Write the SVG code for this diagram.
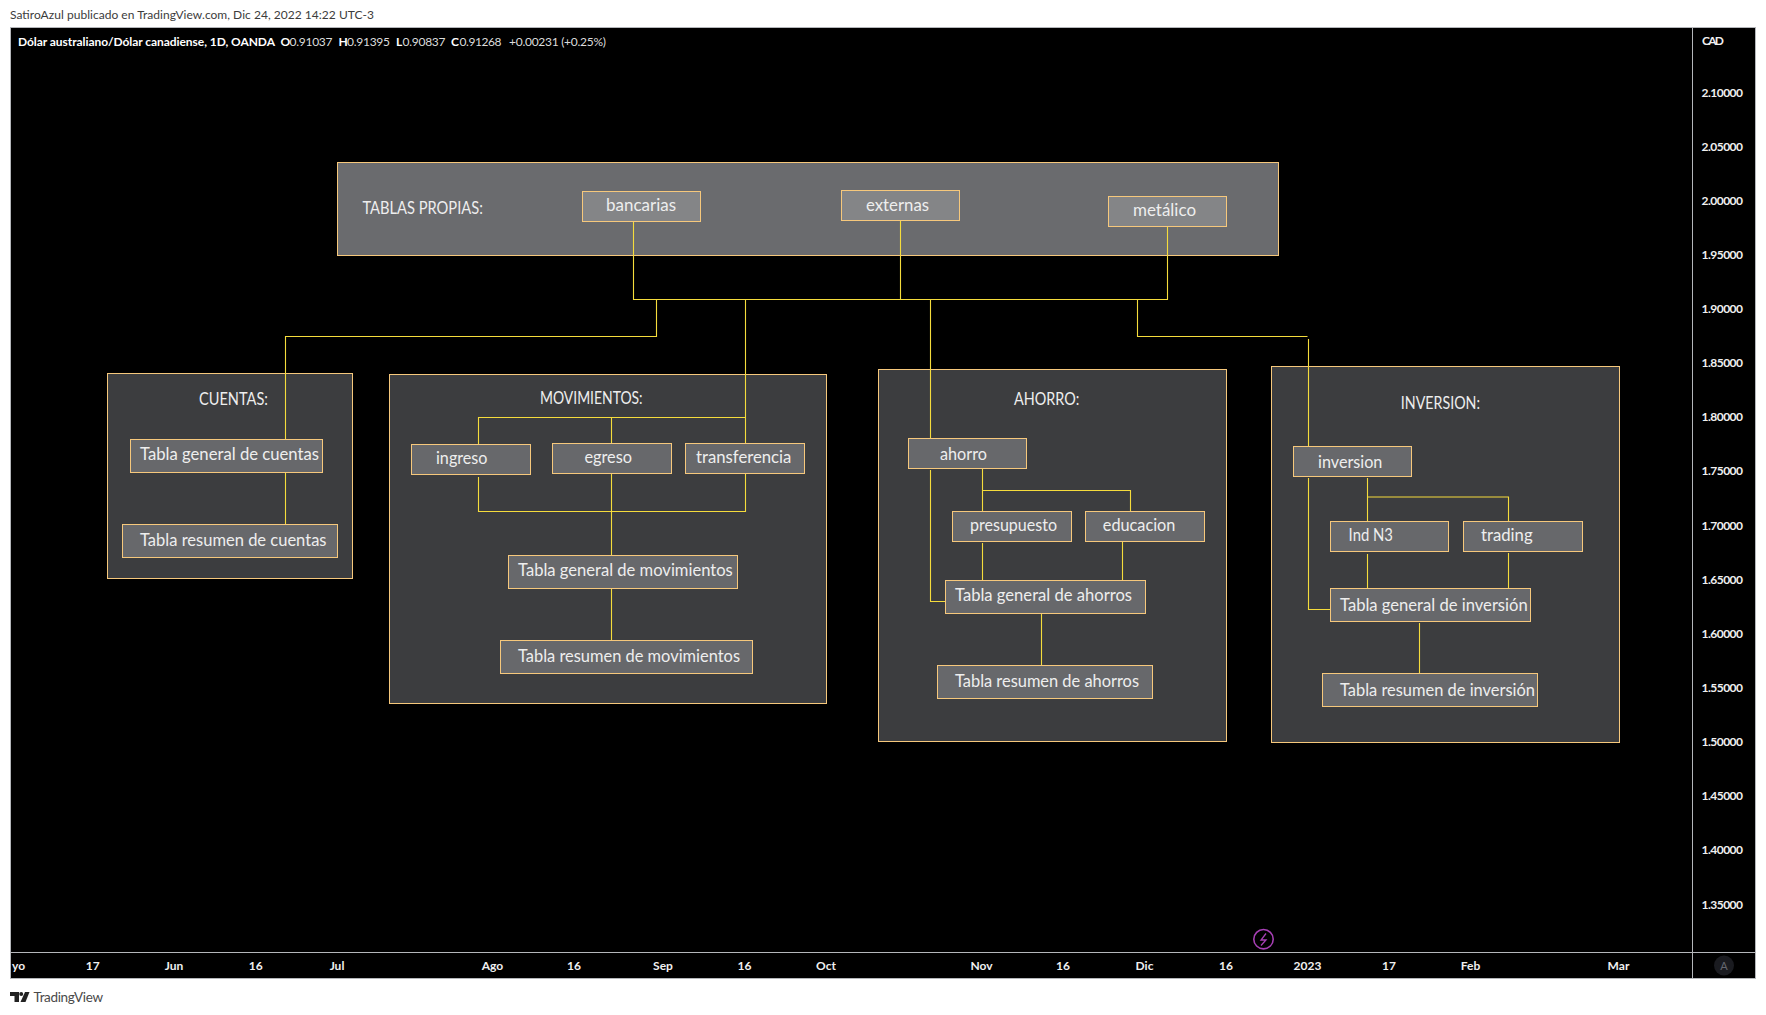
<svg xmlns="http://www.w3.org/2000/svg" width="1766" height="1015" viewBox="0 0 1766 1015">
<style>
text{font-family:"Lato","Open Sans","Liberation Sans",sans-serif}
.b{stroke:#f6c87c;stroke-width:1}
.top{fill:#6a6b6e}
.panel{fill:#3c3d3f}
.node{fill:#67686b}
.light{fill:#848587}
.t{font-size:17px;fill:#eeeeee}
.c{fill:none;stroke:#f5dc3c;stroke-width:1.1}
.ax{font-size:12px;fill:#f0f0f0;font-weight:700}
.p{font-size:12px;fill:#dcdcdc;text-anchor:start}
.h{font-size:12px;font-weight:700;fill:#fff}
.x{text-anchor:middle}
.grid{fill:none;stroke:#b4b6ba;stroke-width:1}
</style>
<rect width="1766" height="1015" fill="#fff"/>
<g id="frame">
<rect x="10" y="27" width="1746" height="952" fill="#000"/>
<rect class="grid" x="10.5" y="27.5" width="1745" height="951"/>
<path class="grid" d="M1692.5 27V979M10 952.5H1756"/>
</g>
<g id="header">
<text x="10" y="19" font-size="12" fill="#3c3c3c" textLength="364">SatiroAzul publicado en TradingView.com, Dic 24, 2022 14:22 UTC-3</text>
<text x="18" y="46" class="h" textLength="257">Dólar australiano/Dólar canadiense, 1D, OANDA</text>
<text x="280.5" y="46" class="h">O</text><text x="289.5" y="46" class="p" textLength="43">0.91037</text>
<text x="338.5" y="46" class="h">H</text><text x="347" y="46" class="p" textLength="43">0.91395</text>
<text x="396" y="46" class="h">L</text><text x="402.5" y="46" class="p" textLength="43">0.90837</text>
<text x="451" y="46" class="h">C</text><text x="459.5" y="46" class="p" textLength="42">0.91268</text>
<text x="509" y="46" class="p" textLength="97">+0.00231 (+0.25%)</text>
</g>
<g id="price-axis">
<text class="ax" x="1702" y="45" textLength="22">CAD</text>
<text class="ax" x="1701.5" y="96.5" textLength="41.5">2.10000</text>
<text class="ax" x="1701.5" y="150.6" textLength="41.5">2.05000</text>
<text class="ax" x="1701.5" y="204.8" textLength="41.5">2.00000</text>
<text class="ax" x="1701.5" y="258.9" textLength="41.5">1.95000</text>
<text class="ax" x="1701.5" y="313" textLength="41.5">1.90000</text>
<text class="ax" x="1701.5" y="367.2" textLength="41.5">1.85000</text>
<text class="ax" x="1701.5" y="421.3" textLength="41.5">1.80000</text>
<text class="ax" x="1701.5" y="475.4" textLength="41.5">1.75000</text>
<text class="ax" x="1701.5" y="529.5" textLength="41.5">1.70000</text>
<text class="ax" x="1701.5" y="583.7" textLength="41.5">1.65000</text>
<text class="ax" x="1701.5" y="637.8" textLength="41.5">1.60000</text>
<text class="ax" x="1701.5" y="691.9" textLength="41.5">1.55000</text>
<text class="ax" x="1701.5" y="746.1" textLength="41.5">1.50000</text>
<text class="ax" x="1701.5" y="800.2" textLength="41.5">1.45000</text>
<text class="ax" x="1701.5" y="854.3" textLength="41.5">1.40000</text>
<text class="ax" x="1701.5" y="908.5" textLength="41.5">1.35000</text>
</g>
<g id="time-axis">
<text class="ax" x="12" y="969.5">yo</text>
<text class="ax x" x="92.7" y="969.5">17</text>
<text class="ax x" x="174" y="969.5">Jun</text>
<text class="ax x" x="255.7" y="969.5">16</text>
<text class="ax x" x="337" y="969.5">Jul</text>
<text class="ax x" x="492.5" y="969.5">Ago</text>
<text class="ax x" x="574" y="969.5">16</text>
<text class="ax x" x="663" y="969.5">Sep</text>
<text class="ax x" x="744.5" y="969.5">16</text>
<text class="ax x" x="826" y="969.5">Oct</text>
<text class="ax x" x="981.5" y="969.5">Nov</text>
<text class="ax x" x="1063" y="969.5">16</text>
<text class="ax x" x="1144.5" y="969.5">Dic</text>
<text class="ax x" x="1226" y="969.5">16</text>
<text class="ax x" x="1307.5" y="969.5">2023</text>
<text class="ax x" x="1389" y="969.5">17</text>
<text class="ax x" x="1470.6" y="969.5">Feb</text>
<text class="ax x" x="1618.5" y="969.5">Mar</text>
</g>
<g id="icons">
<circle cx="1263.5" cy="939.2" r="9.7" fill="none" stroke="#a63fb4" stroke-width="1.6"/>
<path d="M1266 933.5l-5 6.5h5l-5 5.5" fill="none" stroke="#a63fb4" stroke-width="1.3"/>
<circle cx="1724" cy="965.5" r="10" fill="#1a1b20"/>
<text x="1724" y="969.5" font-size="11" fill="#666870" text-anchor="middle">A</text>
<path d="M10 992H19V1002H14.5V996H10Z" fill="#222"/>
<circle cx="21.2" cy="994" r="2" fill="#222"/>
<path d="M25 992H29.5L25.5 1002H20.5Z" fill="#222"/>
<text x="33.5" y="1001.5" font-size="13.5" fill="#4a4a4a" textLength="69.5">TradingView</text>
</g>
<g id="panel-tablas-propias"><rect class="top b" x="337.5" y="162.5" width="941" height="93"/><text class="t" x="362.4" y="214" textLength="120.5" lengthAdjust="spacingAndGlyphs">TABLAS PROPIAS:</text></g>
<g id="panel-cuentas"><rect class="panel b" x="107.5" y="373.5" width="245" height="205"/><text class="t" x="199" y="405" textLength="69" lengthAdjust="spacingAndGlyphs">CUENTAS:</text></g>
<g id="panel-movimientos"><rect class="panel b" x="389.5" y="374.5" width="437" height="329"/><text class="t" x="540" y="404" textLength="102.6" lengthAdjust="spacingAndGlyphs">MOVIMIENTOS:</text></g>
<g id="panel-ahorro"><rect class="panel b" x="878.5" y="369.5" width="348" height="372"/><text class="t" x="1014" y="405" textLength="65.4" lengthAdjust="spacingAndGlyphs">AHORRO:</text></g>
<g id="panel-inversion"><rect class="panel b" x="1271.5" y="366.5" width="348" height="376"/><text class="t" x="1400.8" y="409" textLength="79.2" lengthAdjust="spacingAndGlyphs">INVERSION:</text></g>
<g id="connectors">
<path class="c" d="M633.5 221V299.5H1167.5V226M900.5 220V299.5"/>
<path class="c" d="M656.5 299.5V336.5H285.5V439M285.5 472.7V526"/>
<path class="c" d="M745.5 299.5V444M745.5 417.5H478.5V445M611.5 417.5V444M478.5 477V511.5H745.5V474M611.5 474V556M611.5 588V641"/>
<path class="c" d="M930.5 299.5V439M930.5 470V601.5H946M982.5 468V512M982.5 490.5H1130.5V512M982.5 543V581M1122.5 541V581M1041.5 612V667"/>
<path class="c" d="M1137.5 299.5V336.5H1307.5M1308.5 339V447M1308.5 478V609.5H1331M1367.5 478V522M1367.5 497H1508.5V522M1367.5 554V589M1508.5 553V589M1419.5 623V674"/>
</g>
<g id="n-bancarias"><rect class="light b" x="582.5" y="191.5" width="118" height="30"/><text class="t" x="606" y="211" textLength="70" lengthAdjust="spacingAndGlyphs">bancarias</text></g>
<g id="n-externas"><rect class="light b" x="841.5" y="190.5" width="118" height="30"/><text class="t" x="866" y="211" textLength="63" lengthAdjust="spacingAndGlyphs">externas</text></g>
<g id="n-metalico"><rect class="light b" x="1108.5" y="196.5" width="118" height="30"/><text class="t" x="1133" y="216" textLength="63" lengthAdjust="spacingAndGlyphs">metálico</text></g>
<g id="n-general-cuentas"><rect class="node b" x="130.5" y="439.5" width="192" height="33"/><text class="t" x="140" y="460" textLength="179" lengthAdjust="spacingAndGlyphs">Tabla general de cuentas</text></g>
<g id="n-resumen-cuentas"><rect class="node b" x="122.5" y="524.5" width="215" height="33"/><text class="t" x="140" y="546" textLength="186.5" lengthAdjust="spacingAndGlyphs">Tabla resumen de cuentas</text></g>
<g id="n-ingreso"><rect class="node b" x="411.5" y="444.5" width="119" height="30"/><text class="t" x="436" y="463.7" textLength="51.5" lengthAdjust="spacingAndGlyphs">ingreso</text></g>
<g id="n-egreso"><rect class="node b" x="552.5" y="443.5" width="119" height="30"/><text class="t" x="584.4" y="462.7" textLength="47.6" lengthAdjust="spacingAndGlyphs">egreso</text></g>
<g id="n-transferencia"><rect class="node b" x="685.5" y="443.5" width="119" height="30"/><text class="t" x="696" y="462.7" textLength="95.4" lengthAdjust="spacingAndGlyphs">transferencia</text></g>
<g id="n-general-movimientos"><rect class="node b" x="508.5" y="555.5" width="229" height="33"/><text class="t" x="518" y="576" textLength="214.8" lengthAdjust="spacingAndGlyphs">Tabla general de movimientos</text></g>
<g id="n-resumen-movimientos"><rect class="node b" x="500.5" y="640.5" width="252" height="33"/><text class="t" x="518" y="662" textLength="222" lengthAdjust="spacingAndGlyphs">Tabla resumen de movimientos</text></g>
<g id="n-ahorro"><rect class="node b" x="908.5" y="438.5" width="118" height="30"/><text class="t" x="940" y="460" textLength="46.9" lengthAdjust="spacingAndGlyphs">ahorro</text></g>
<g id="n-presupuesto"><rect class="node b" x="952.5" y="511.5" width="119" height="30"/><text class="t" x="970" y="531.3" textLength="87" lengthAdjust="spacingAndGlyphs">presupuesto</text></g>
<g id="n-educacion"><rect class="node b" x="1085.5" y="511.5" width="119" height="30"/><text class="t" x="1102.8" y="531.3" textLength="72.6" lengthAdjust="spacingAndGlyphs">educacion</text></g>
<g id="n-general-ahorros"><rect class="node b" x="945.5" y="580.5" width="200" height="33"/><text class="t" x="955" y="601.3" textLength="177" lengthAdjust="spacingAndGlyphs">Tabla general de ahorros</text></g>
<g id="n-resumen-ahorros"><rect class="node b" x="937.5" y="665.5" width="215" height="33"/><text class="t" x="955" y="687.3" textLength="184" lengthAdjust="spacingAndGlyphs">Tabla resumen de ahorros</text></g>
<g id="n-inversion"><rect class="node b" x="1293.5" y="446.5" width="118" height="30"/><text class="t" x="1318" y="468" textLength="64.4" lengthAdjust="spacingAndGlyphs">inversion</text></g>
<g id="n-ind-n3"><rect class="node b" x="1330.5" y="521.5" width="118" height="30"/><text class="t" x="1348.6" y="541" textLength="44.4" lengthAdjust="spacingAndGlyphs">Ind N3</text></g>
<g id="n-trading"><rect class="node b" x="1463.5" y="521.5" width="119" height="30"/><text class="t" x="1481" y="541" textLength="51.6" lengthAdjust="spacingAndGlyphs">trading</text></g>
<g id="n-general-inversion"><rect class="node b" x="1330.5" y="588.5" width="200" height="33"/><text class="t" x="1340" y="611.3" textLength="187.7" lengthAdjust="spacingAndGlyphs">Tabla general de inversión</text></g>
<g id="n-resumen-inversion"><rect class="node b" x="1322.5" y="673.5" width="215" height="33"/><text class="t" x="1340" y="696.3" textLength="195" lengthAdjust="spacingAndGlyphs">Tabla resumen de inversión</text></g>
</svg>
